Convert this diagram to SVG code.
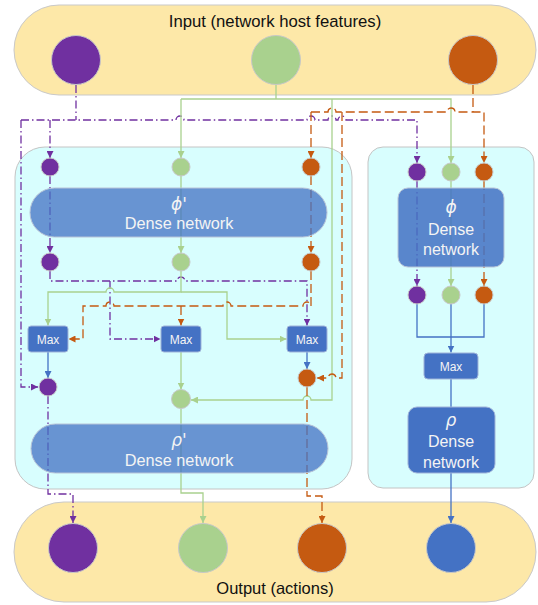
<svg xmlns="http://www.w3.org/2000/svg" width="538" height="605" viewBox="0 0 538 605">
<style>
.pill{fill:#FDE8A8;stroke:#C9C9C9;stroke-width:1}
.panel{fill:#D8FEFE;stroke:#C4C4C4;stroke-width:1}
.dense{fill:#4472C4;fill-opacity:0.76;stroke:#B8C4D8;stroke-width:1}
.dense2{fill:#4472C4;fill-opacity:0.86;stroke:#B8C4D8;stroke-width:1}
.solid{fill:#4472C4;stroke:#9FB3D9;stroke-width:1}
.c{stroke:#C8C8C8;stroke-width:1}
.pu{fill:#7030A0}.gr{fill:#A9D18E}.or{fill:#C55A11}.bl{fill:#4472C4}
.lp{fill:none;stroke:#7030A0;stroke-width:1.3;stroke-dasharray:8 3 1.5 3}
.lg{fill:none;stroke:#A9D18E;stroke-width:1.3}
.lo{fill:none;stroke:#C55A11;stroke-width:1.3;stroke-dasharray:9 4}
.lb{fill:none;stroke:#4472C4;stroke-width:1.3}
.t{font-family:"Liberation Sans",Arial,sans-serif;fill:#111;text-anchor:middle}
.w{font-family:"Liberation Sans",Arial,sans-serif;fill:#F4F4F4;text-anchor:middle}
.g{font-family:"DejaVu Sans",sans-serif;font-style:italic;fill:#F4F4F4;text-anchor:middle}
</style>
<defs>
<marker id="ap" viewBox="0 0 8 8" refX="8" refY="4" markerWidth="7" markerHeight="7" markerUnits="userSpaceOnUse" orient="auto"><path d="M0,0 L8,4 L0,8 z" fill="#7030A0"/></marker>
<marker id="ag" viewBox="0 0 8 8" refX="8" refY="4" markerWidth="7" markerHeight="7" markerUnits="userSpaceOnUse" orient="auto"><path d="M0,0 L8,4 L0,8 z" fill="#A9D18E"/></marker>
<marker id="ao" viewBox="0 0 8 8" refX="8" refY="4" markerWidth="7" markerHeight="7" markerUnits="userSpaceOnUse" orient="auto"><path d="M0,0 L8,4 L0,8 z" fill="#C55A11"/></marker>
<marker id="ab" viewBox="0 0 8 8" refX="8" refY="4" markerWidth="7" markerHeight="7" markerUnits="userSpaceOnUse" orient="auto"><path d="M0,0 L8,4 L0,8 z" fill="#4472C4"/></marker>
</defs>

<g id="input">
<rect class="pill" x="14" y="5" width="522" height="90" rx="45"/>
<text class="t" x="275" y="27" font-size="16.7">Input (network host features)</text>
<circle class="c pu" cx="76" cy="60" r="24.5"/>
<circle class="c gr" cx="276" cy="60" r="24.5"/>
<circle class="c or" cx="473" cy="60" r="24.5"/>
</g>
<g id="output">
<rect class="pill" x="14" y="502" width="522" height="100" rx="50"/>
<text class="t" x="275" y="594" font-size="16.5">Output (actions)</text>
<circle class="c pu" cx="73" cy="548" r="24.5"/>
<circle class="c gr" cx="203" cy="548" r="24.5"/>
<circle class="c or" cx="322" cy="548" r="24.5"/>
<circle class="c bl" cx="451" cy="548" r="24.5"/>
</g>
<g id="panel-left"><rect class="panel" x="15" y="147" width="337" height="342" rx="30"/></g>
<g id="panel-right"><rect class="panel" x="368" y="147" width="166" height="341" rx="15"/></g>

<g id="connectors">
<!-- input to panels -->
<path class="lp" d="M76,85 V120"/>
<path class="lp" d="M21,120 H176 a4,4 0 0 1 8,0 H307 a4,4 0 0 1 8,0 H328 a4,4 0 0 1 8,0 H338 a4,4 0 0 1 8,0 H417 V163" marker-end="url(#ap)"/>
<path class="lp" d="M21,120 V387 H38" marker-end="url(#ap)"/>
<path class="lp" d="M50,120 V158" marker-end="url(#ap)"/>
<path class="lg" d="M276,85 V99"/>
<path class="lg" d="M181,99 H451 V163" marker-end="url(#ag)"/>
<path class="lg" d="M181,99 V158" marker-end="url(#ag)"/>
<path class="lg" d="M332,99 V400 H311 a4,4 0 0 0 -8,0 H191" marker-end="url(#ag)"/>
<path class="lo" d="M473,85 V112"/>
<path class="lo" d="M311,112 H328 a4,4 0 0 1 8,0 H447 a4,4 0 0 1 8,0 H484 V163" marker-end="url(#ao)"/>
<path class="lo" d="M311,112 V158" marker-end="url(#ao)"/>
<path class="lo" d="M342,112 V378 H336 a4,4 0 0 0 -8,0 H317" marker-end="url(#ao)"/>
<!-- left panel through phi' -->
<path class="lp" d="M50,176 V253" marker-end="url(#ap)"/>
<path class="lg" d="M181,176 V253" marker-end="url(#ag)"/>
<path class="lo" d="M311,176 V253" marker-end="url(#ao)"/>
<!-- to max boxes -->
<path class="lp" d="M50,271 V281 H177 a4,4 0 0 1 8,0 H307 V325.5" marker-end="url(#ap)"/>
<path class="lp" d="M110,281 V339 H160.5" marker-end="url(#ap)"/>
<path class="lg" d="M181,271 V292 H114 a4,4 0 0 0 -8,0 H48 V325.5" marker-end="url(#ag)"/>
<path class="lg" d="M181,292 H227 V339 H286.5" marker-end="url(#ag)"/>
<path class="lo" d="M311,271 V306 a4,4 0 0 0 -8,0 H231 a4,4 0 0 0 -8,0 H114 a4,4 0 0 0 -8,0 H83 V339 H68.5" marker-end="url(#ao)"/>
<path class="lo" d="M181,306 V325.5" marker-end="url(#ao)"/>
<!-- max outputs -->
<path class="lb" d="M48,352 V378" marker-end="url(#ab)"/>
<path class="lg" d="M181,352 V389.5" marker-end="url(#ag)"/>
<path class="lb" d="M307,352 V369" marker-end="url(#ab)"/>
<!-- to output -->
<path class="lp" d="M48,396 V494 H73 V523" marker-end="url(#ap)"/>
<path class="lg" d="M181,408.5 V493 H203 V523" marker-end="url(#ag)"/>
<path class="lo" d="M307,387 V496 H322 V523" marker-end="url(#ao)"/>
<!-- right panel -->
<path class="lp" d="M417,181 V286" marker-end="url(#ap)"/>
<path class="lg" d="M451,181 V286" marker-end="url(#ag)"/>
<path class="lo" d="M484,181 V286" marker-end="url(#ao)"/>
<path class="lb" d="M417,304 V337 H484 V304"/>
<path class="lb" d="M451,304 V352.5" marker-end="url(#ab)"/>
<path class="lb" d="M451,379 V407"/>
<path class="lb" d="M451,473 V523" marker-end="url(#ab)"/>
</g>

<g id="phi-prime">
<rect class="dense" x="30" y="188" width="297" height="49" rx="24.5"/>
<text class="g" x="179" y="210" font-size="17">ϕ'</text>
<text class="w" x="179" y="229" font-size="16.3">Dense network</text>
</g>
<g id="rho-prime">
<rect class="dense" x="31" y="424" width="297" height="49" rx="24.5"/>
<text class="g" x="179" y="446" font-size="17">ρ'</text>
<text class="w" x="179" y="466" font-size="16.3">Dense network</text>
</g>
<g id="left-circles">
<circle class="c pu" cx="50" cy="167" r="9"/>
<circle class="c gr" cx="181" cy="167" r="9"/>
<circle class="c or" cx="311" cy="167" r="9"/>
<circle class="c pu" cx="50" cy="262" r="9"/>
<circle class="c gr" cx="181" cy="262" r="9"/>
<circle class="c or" cx="311" cy="262" r="9"/>
<circle class="c pu" cx="48" cy="387" r="9"/>
<circle class="c gr" cx="181" cy="399" r="9.5"/>
<circle class="c or" cx="307" cy="378" r="9"/>
</g>
<g id="max-left"><rect class="solid" x="28" y="326" width="40" height="26" rx="3"/><text class="w" x="48" y="343.5" font-size="12">Max</text></g>
<g id="max-mid"><rect class="solid" x="161" y="326" width="40" height="26" rx="3"/><text class="w" x="181" y="343.5" font-size="12">Max</text></g>
<g id="max-right"><rect class="solid" x="287" y="326" width="40" height="26" rx="3"/><text class="w" x="307" y="343.5" font-size="12">Max</text></g>

<g id="phi">
<rect class="dense2" x="398" y="188" width="106" height="79" rx="10"/>
<text class="g" x="451" y="213" font-size="17">ϕ</text>
<text class="w" x="451" y="235" font-size="16">Dense</text>
<text class="w" x="451" y="255" font-size="16">network</text>
</g>
<g id="right-circles">
<circle class="c pu" cx="417" cy="172" r="9"/>
<circle class="c gr" cx="451" cy="172" r="9"/>
<circle class="c or" cx="484" cy="172" r="9"/>
<circle class="c pu" cx="417" cy="295" r="9"/>
<circle class="c gr" cx="451" cy="295" r="9"/>
<circle class="c or" cx="484" cy="295" r="9"/>
</g>
<g id="max-r"><rect class="solid" x="424" y="353" width="54" height="26" rx="4"/><text class="w" x="451" y="370.5" font-size="12">Max</text></g>
<g id="rho">
<rect class="solid" x="408" y="407" width="87" height="66" rx="9"/>
<text class="g" x="451" y="426" font-size="17">ρ</text>
<text class="w" x="451" y="447" font-size="16">Dense</text>
<text class="w" x="451" y="468" font-size="16">network</text>
</g>
</svg>
